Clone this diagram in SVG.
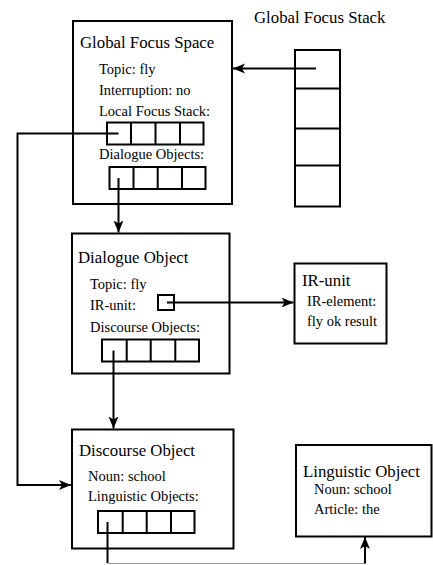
<svg xmlns="http://www.w3.org/2000/svg" width="433" height="565" viewBox="0 0 433 565">
<style>
.box{fill:#fff;stroke:#000;stroke-width:2}
.cell{fill:none;stroke:#000;stroke-width:2}
.ln{fill:none;stroke:#000;stroke-width:2}
.t{font-family:"Liberation Serif","Times New Roman",serif;font-size:16.8px;fill:#000}
.s{font-family:"Liberation Serif","Times New Roman",serif;font-size:14.5px;fill:#000}
</style>
<defs>
<marker id="arr" markerUnits="userSpaceOnUse" markerWidth="14" markerHeight="12" refX="12" refY="5" orient="auto" viewBox="0 0 14 12">
<path d="M0,0 L12,5 L0,10 L3,5 Z" fill="#000"/>
</marker>
</defs>
<rect width="433" height="565" fill="#fff"/>

<g id="global-focus-space">
<rect class="box" x="73" y="21" width="159" height="183"/>
<text class="t" x="80" y="48">Global Focus Space</text>
<text class="s" x="99" y="74">Topic: fly</text>
<text class="s" x="99" y="95">Interruption: no</text>
<text class="s" x="99" y="116">Local Focus Stack:</text>
<rect class="cell" x="107" y="122.5" width="96.5" height="22"/>
<path class="cell" d="M131,122.5V144.5M155.5,122.5V144.5M180,122.5V144.5"/>
<text class="s" x="99" y="159">Dialogue Objects:</text>
<rect class="cell" x="109.5" y="167" width="96" height="22"/>
<path class="cell" d="M133.5,167V189M157.7,167V189M182,167V189"/>
</g>

<g id="global-focus-stack">
<text class="t" x="254" y="23">Global Focus Stack</text>
<rect class="cell" x="295" y="50" width="45" height="156.5"/>
<path class="cell" d="M295,88.5H340M295,128.5H340M295,165.5H340"/>
</g>

<g id="dialogue-object">
<rect class="box" x="72" y="233.5" width="157.5" height="140"/>
<text class="t" x="78" y="262.5">Dialogue Object</text>
<text class="s" x="90" y="289">Topic: fly</text>
<text class="s" x="90" y="310">IR-unit:</text>
<rect class="cell" x="158" y="295" width="16" height="15"/>
<text class="s" x="90" y="331.5">Discourse Objects:</text>
<rect class="cell" x="102" y="339.5" width="97" height="22"/>
<path class="cell" d="M126.7,339.5V361.5M150.7,339.5V361.5M175.3,339.5V361.5"/>
</g>

<g id="ir-unit">
<rect class="box" x="294.5" y="263.5" width="92" height="80"/>
<text class="t" x="302" y="286">IR-unit</text>
<text class="s" x="307" y="306">IR-element:</text>
<text class="s" x="307" y="326">fly ok result</text>
</g>

<g id="discourse-object">
<rect class="box" x="72" y="429.5" width="161.5" height="119"/>
<text class="t" x="79" y="456">Discourse Object</text>
<text class="s" x="88" y="480.5">Noun: school</text>
<text class="s" x="88" y="501">Linguistic Objects:</text>
<rect class="cell" x="98" y="511" width="96.5" height="22"/>
<path class="cell" d="M122.7,511V533M146.7,511V533M171,511V533"/>
</g>

<g id="linguistic-object">
<rect class="box" x="296" y="445" width="135.5" height="91.5"/>
<text class="t" x="303" y="476.5">Linguistic Object</text>
<text class="s" x="314" y="494">Noun: school</text>
<text class="s" x="314" y="513.5">Article: the</text>
</g>

<g id="connectors">
<path class="ln" d="M316,68.5H233" marker-end="url(#arr)"/>
<path class="ln" d="M118.5,133.5H17.5V485H71" marker-end="url(#arr)"/>
<path class="ln" d="M118.5,178V232.5" marker-end="url(#arr)"/>
<path class="ln" d="M167,302.5H293.5" marker-end="url(#arr)"/>
<path class="ln" d="M113.5,350.5V428.5" marker-end="url(#arr)"/>
<path class="ln" d="M107.5,522V563"/>
<path d="M107.5,563.5H365" fill="none" stroke="#999" stroke-width="1.2"/>
<path class="ln" d="M365,563.5V537" marker-end="url(#arr)"/>
</g>
</svg>
